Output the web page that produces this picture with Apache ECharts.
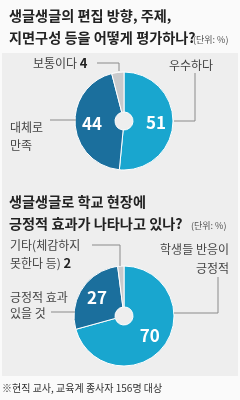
<!DOCTYPE html>
<html><head><meta charset="utf-8">
<script src="https://cdn.jsdelivr.net/npm/echarts@6/dist/echarts.min.js"></script>
<style>html,body{margin:0;padding:0;background:#fafafa;}#c{width:240px;height:400px;}</style>
</head><body><div id="c"></div>
<script>
const title1 = ['생글생글의 편집 방향, 주제,', '지면구성 등을 어떻게 평가하나?'];
const title2 = ['생글생글로 학교 현장에', '긍정적 효과가 나타나고 있나?'];
const unitText = '(단위: %)';
const cats1 = ['우수하다', '대체로 만족', '보통이다'];
const vals1 = [51, 44, 4];
const cats2 = ['학생들 반응이 긍정적', '긍정적 효과 있을 것', '기타(체감하지 못한다 등)'];
const vals2 = [70, 27, 2];
const colors = ['#19a6cf', '#1b6f9d', '#c9cacc'];
const footnote = '※현직 교사, 교육계 종사자 156명 대상';

const FONT = '"Noto Sans CJK KR", "Noto Sans", sans-serif';
const chart = echarts.init(document.getElementById('c'), null, {renderer: 'canvas'});

function pieSeries(cats, vals, center) {
  return {
    type: 'pie', center: center, radius: [9, 49], startAngle: 90, clockwise: true,
    silent: true, animation: false,
    itemStyle: {borderColor: '#ffffff', borderWidth: 1},
    label: {
      show: true, position: 'inside', color: '#fff', fontFamily: FONT, fontWeight: 'bold', fontSize: 17,
      formatter: p => p.dataIndex < 2 ? String(p.value) : ''
    },
    labelLine: {show: false},
    data: cats.map((c, i) => ({name: c, value: vals[i], itemStyle: {color: colors[i]}}))
  };
}

const txt = (x, y, text, opt) => Object.assign({
  type: 'text', z: 10, silent: true,
  style: Object.assign({x: x, y: y, text: text, fill: '#444', font: '12px ' + FONT, textVerticalAlign: 'middle'}, opt || {})
});
const line = (pts) => ({type: 'polyline', z: 9, silent: true, shape: {points: pts}, style: {stroke: '#8a8a8a', lineWidth: 1, fill: null}});
const titleFont = 'bold 14.2px ' + FONT;

chart.setOption({
  backgroundColor: '#fafafa',
  graphic: [
    {type: 'rect', z: 0, silent: true, shape: {x: 2, y: 53, width: 236, height: 323}, style: {fill: '#eeeeee'}},
    txt(9, 16, title1[0], {font: titleFont, fill: '#222'}),
    txt(9, 38, title1[1], {font: titleFont, fill: '#222'}),
    txt(193, 40, unitText, {font: '9px ' + FONT, fill: '#555'}),
    // pie 1 labels
    {type: 'text', z: 10, silent: true, style: {x: 33, y: 63, text: '{a|보통이다 }{b|' + vals1[2] + '}', textVerticalAlign: 'middle',
      rich: {a: {font: '12px ' + FONT, fill: '#444'}, b: {font: 'bold 13px ' + FONT, fill: '#222'}}}},
    line([[97, 63], [119, 63], [119, 71]]),
    txt(169, 65, cats1[0]),
    line([[195, 73], [195, 121], [174, 121]]),
    txt(10, 127, '대체로'),
    txt(10, 145, '만족'),
    line([[50, 120], [76, 120]]),
    // title 2
    txt(9, 202, title2[0], {font: titleFont, fill: '#222'}),
    txt(9, 224, title2[1], {font: titleFont, fill: '#222'}),
    txt(191, 226, unitText, {font: '9px ' + FONT, fill: '#555'}),
    // pie 2 labels
    txt(10, 245, '기타(체감하지'),
    {type: 'text', z: 10, silent: true, style: {x: 10, y: 263, text: '{a|못한다 등) }{b|' + vals2[2] + '}', textVerticalAlign: 'middle',
      rich: {a: {font: '12px ' + FONT, fill: '#444'}, b: {font: 'bold 13px ' + FONT, fill: '#222'}}}},
    line([[92, 245], [120, 245], [120, 266]]),
    txt(229, 249, '학생들 반응이', {textAlign: 'right'}),
    txt(229, 268, '긍정적', {textAlign: 'right'}),
    line([[218, 277], [218, 313], [174, 313]]),
    txt(10, 297, '긍정적 효과'),
    txt(10, 313, '있을 것'),
    line([[51, 312], [75, 312]]),
    txt(2, 388, footnote, {font: '10px ' + FONT, fill: '#333'})
  ],
  series: [
    pieSeries(cats1, vals1, [124, 121]),
    Object.assign(pieSeries(cats2, vals2, [124, 316]), {radius: [9, 50]})
  ]
});
</script></body></html>
